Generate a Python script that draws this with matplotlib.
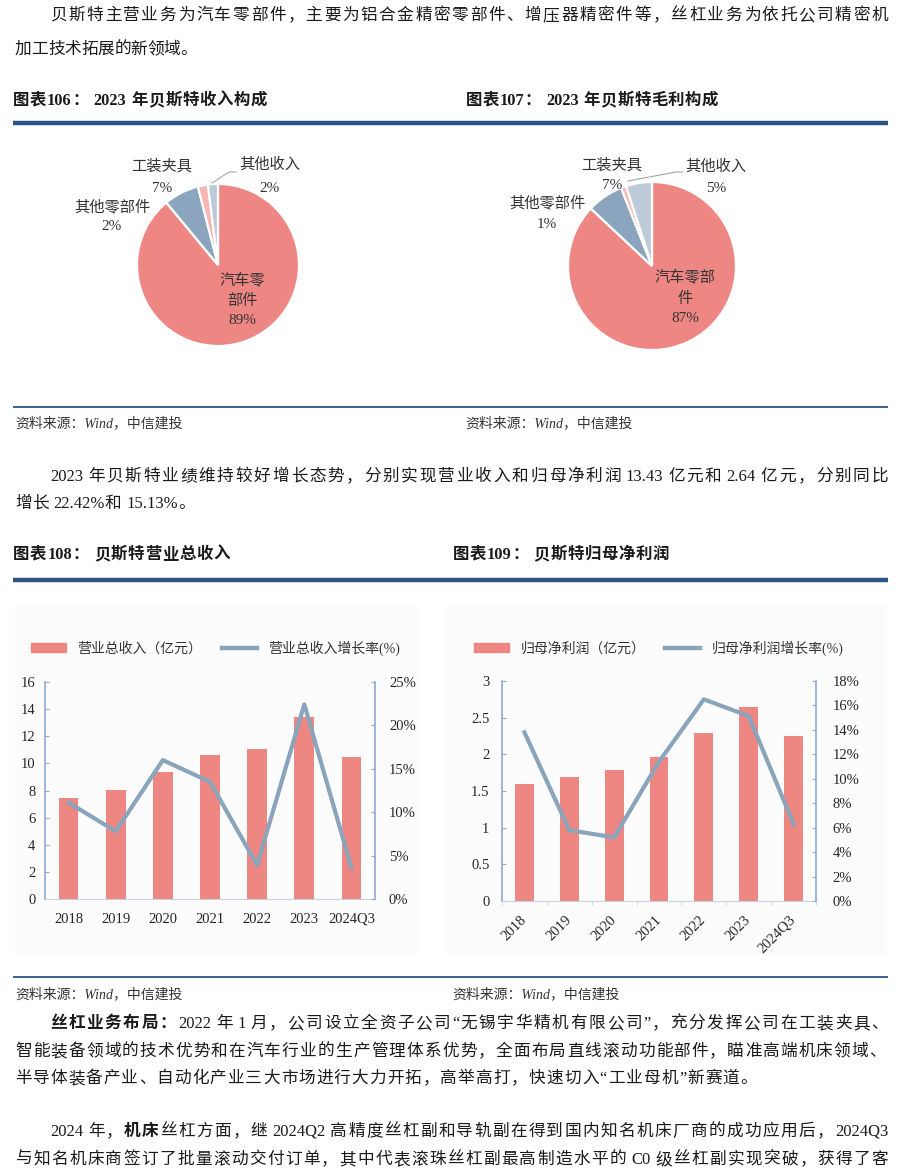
import numpy as np
import matplotlib
matplotlib.use("Agg")
import matplotlib.pyplot as plt
from matplotlib.lines import Line2D
from matplotlib.patches import Rectangle

# ---- data ----
years = ['2018', '2019', '2020', '2021', '2022', '2023', '2024Q3']
revenue = [7.45, 8.04, 9.36, 10.62, 11.06, 13.43, 10.47]          # 亿元
revenue_growth = [11.1, 7.8, 16.0, 13.5, 3.9, 22.42, 3.6]          # %
net_profit = [1.60, 1.69, 1.78, 1.96, 2.29, 2.64, 2.25]            # 亿元
profit_growth = [13.8, 5.8, 5.2, 11.4, 16.5, 15.13, 6.3]           # %

pie_names = ['汽车零部件', '工装夹具', '其他零部件', '其他收入']
income_share = [89, 7, 2, 2]
gross_share = [87, 7, 1, 5]

para1 = ['贝斯特主营业务为汽车零部件，主要为铝合金精密零部件、增压器精密件等，丝杠业务为依托公司精密机',
         '加工技术拓展的新领域。']
para2 = ['2023 年贝斯特业绩维持较好增长态势，分别实现营业收入和归母净利润 13.43 亿元和 2.64 亿元，分别同比',
         '增长 22.42%和 15.13%。']
para3_lead = '丝杠业务布局：'
para3 = ['2022 年 1 月，公司设立全资子公司“无锡宇华精机有限公司”，充分发挥公司在工装夹具、',
         '智能装备领域的技术优势和在汽车行业的生产管理体系优势，全面布局直线滚动功能部件，瞄准高端机床领域、',
         '半导体装备产业、自动化产业三大市场进行大力开拓，高举高打，快速切入“工业母机”新赛道。']
para4 = [[('2024 年，', 'normal'), ('机床', 'bold'),
          ('丝杠方面，继 2024Q2 高精度丝杠副和导轨副在得到国内知名机床厂商的成功应用后，2024Q3', 'normal')],
         [('与知名机床商签订了批量滚动交付订单，其中代表滚珠丝杠副最高制造水平的 C0 级丝杠副实现突破，获得了客', 'normal')]]

titles = ['图表106： 2023 年贝斯特收入构成', '图表107： 2023 年贝斯特毛利构成',
          '图表108： 贝斯特营业总收入', '图表109： 贝斯特归母净利润']
source = '资料来源：Wind，中信建投'

# ---- style ----
BAR = '#ee8681'
LINE = '#8aa4bb'
SPINE = '#8fa8d6'
NAVY = '#2e5486'
TXT = '#1a1a1a'
pie_colors = ['#ee8783', '#8aa5bd', '#f4b7b6', '#bdcbd9']

plt.rcParams['font.family'] = ['Liberation Serif', 'Noto Sans CJK SC']

W, H = 900, 1174
fig = plt.figure(figsize=(9, 11.74), dpi=100)
renderer = fig.canvas.get_renderer()


def fx(x):
    return x / W


def fy(y):
    return 1 - y / H


def split_tokens(s):
    out, buf = [], ''
    for ch in s:
        if ord(ch) < 128 and ch != ' ':
            buf += ch
        else:
            if buf:
                out.append(buf)
                buf = ''
            out.append(ch)
    if buf:
        out.append(buf)
    return out


def place_line(segs, x0, x1, y, size=12, color=TXT, style='normal'):
    """draw a text line spread between x0 and x1 (pixels), y = glyph centre"""
    toks = []
    for text, weight in segs:
        for tok in split_tokens(text):
            toks.append((tok, weight))
    items, widths, is_space = [], [], []
    for tok, weight in toks:
        if tok == ' ':
            items.append(None)
            widths.append(size * 100 / 72 * 0.3)
            is_space.append(True)
            continue
        t = fig.text(0, 0, tok, fontsize=size, fontweight=weight, color=color,
                     style=style, ha='left', va='baseline')
        items.append(t)
        widths.append(t.get_window_extent(renderer).width)
        is_space.append(False)
    # justification gaps only between two non-space tokens
    n_gaps = sum(1 for i in range(len(items) - 1) if not is_space[i] and not is_space[i + 1])
    gap = 0.0
    if x1 is not None and n_gaps > 0:
        gap = (x1 - x0 - sum(widths)) / n_gaps
    base = y + size * 100 / 72 * 0.36
    x = x0
    for i, (t, w) in enumerate(zip(items, widths)):
        if t is not None:
            t.set_position((fx(x), fy(base)))
        x += w
        if i < len(items) - 1 and not is_space[i] and not is_space[i + 1]:
            x += gap


def hline(y, x0=13, x1=888, lw=1.0, color=NAVY):
    fig.add_artist(Line2D([fx(x0), fx(x1)], [fy(y), fy(y)], lw=lw, color=color,
                          transform=fig.transFigure, solid_capstyle='butt'))


# ---- body text ----
place_line([(para1[0], 'normal')], 50, 888, 14)
place_line([(para1[1], 'normal')], 15, 197, 48)
place_line([(para2[0], 'normal')], 50, 888, 475)
place_line([(para2[1], 'normal')], 15, 195, 502)
place_line([(para3_lead, 'bold'), (para3[0], 'normal')], 50, 888, 1022)
place_line([(para3[1], 'normal')], 15, 886, 1050)
place_line([(para3[2], 'normal')], 15, 757, 1077)
place_line(para4[0], 50, 888, 1130)
place_line(para4[1], 15, 888, 1158)

# ---- titles, rules, sources ----
place_line([(titles[0], 'bold')], 13, 267, 99, size=11.8)
place_line([(titles[1], 'bold')], 466, 718, 99, size=11.8)
place_line([(titles[2], 'bold')], 13, 230, 553, size=11.8)
place_line([(titles[3], 'bold')], 453, 669, 553, size=11.8)
hline(122.5, lw=3.2)
hline(580, lw=3.2)
hline(407, lw=1.3)
hline(977, lw=1.3)
for x, y in [(15, 423), (465, 423), (15, 994), (452, 994)]:
    fig.text(fx(x), fy(y), source, fontsize=10, style='italic', color='#333333',
             ha='left', va='center')

# ---- pies ----
def draw_pie(values, cx, cy, r):
    pad = 1.2
    ax = fig.add_axes([fx(cx - pad * r), fy(cy + pad * r), 2 * pad * r / W, 2 * pad * r / H])
    ax.pie(values, colors=pie_colors, startangle=90, counterclock=False, radius=1,
           wedgeprops=dict(edgecolor='white', linewidth=1.6))
    ax.set_xlim(-pad, pad)
    ax.set_ylim(-pad, pad)
    ax.set_aspect('equal')
    ax.axis('off')


def pie_label(lines, x, ys):
    for s, y in zip(lines, ys):
        fig.text(fx(x), fy(y), s, fontsize=11, color='#333333', ha='center', va='center')


draw_pie(income_share, 218, 265, 81)
draw_pie(gross_share, 652, 266, 84)

pct1 = [f'{v}%' for v in income_share]
pct2 = [f'{v}%' for v in gross_share]
pie_label([pie_names[0][:3], pie_names[0][3:], pct1[0]], 242, [280, 301, 320])
pie_label([pie_names[1], pct1[1]], 162, [166, 188])
pie_label([pie_names[2], pct1[2]], 112, [207, 227])
pie_label([pie_names[3], pct1[3]], 270, [165, 188])
pie_label([pie_names[0][:4], pie_names[0][4:], pct2[0]], 685, [277, 299, 319])
pie_label([pie_names[1], pct2[1]], 612, [165, 185])
pie_label([pie_names[2], pct2[2]], 547, [203, 224])
pie_label([pie_names[3], pct2[3]], 716, [167, 188])
for xs, ys in [([212, 229, 236], [183, 172, 172]), ([628, 676, 683], [181, 172, 172])]:
    fig.add_artist(Line2D([fx(v) for v in xs], [fy(v) for v in ys], lw=0.8,
                          color='#a6a6a6', transform=fig.transFigure))

# ---- combo charts ----
for x0, x1 in [(15, 417), (445, 885)]:
    fig.add_artist(Rectangle((fx(x0), fy(955)), (x1 - x0) / W, 350 / H,
                             transform=fig.transFigure, color='#fcfcfc', zorder=0))


def combo(rect, bars, growth, ymax, ystep, pmax, pstep, bar_names, rotate,
          lpad, rpad, legend_x):
    l, t, r, b = rect
    ax = fig.add_axes([fx(l), fy(b), (r - l) / W, (b - t) / H])
    ax.patch.set_alpha(0)
    x = np.arange(len(years))
    ax.bar(x, bars, width=0.42, color=BAR, zorder=2)
    ax.set_xlim(-0.5, len(years) - 0.5)
    ax.set_ylim(0, ymax)
    yt = np.arange(0, ymax + 1e-9, ystep)
    ax.set_yticks(yt, [f'{v:g}' for v in yt])
    for side in ['top', 'right']:
        ax.spines[side].set_visible(False)
    ax.spines['left'].set_color(SPINE)
    ax.spines['left'].set_linewidth(1.2)
    ax.spines['bottom'].set_color('#c9d3e3')
    ax.tick_params(axis='y', direction='in', length=3, color=SPINE, pad=lpad,
                   labelsize=10.5, labelcolor='#262626')
    if rotate:
        ax.set_xticks(x, years, rotation=45, ha='right', rotation_mode='anchor', va='center')
        ax.set_xticks(np.arange(-0.5, len(years), 1), minor=True)
        ax.tick_params(axis='x', which='major', length=0, pad=12, labelsize=10.5,
                       labelcolor='#262626')
        ax.tick_params(axis='x', which='minor', length=3, direction='out', color='#c9d3e3')
    else:
        ax.set_xticks(x, years)
        ax.tick_params(axis='x', length=0, pad=10, labelsize=10.5, labelcolor='#262626')

    ax2 = ax.twinx()
    ax2.plot(x, growth, color=LINE, lw=3)
    ax2.set_ylim(0, pmax)
    pt = np.arange(0, pmax + 1e-9, pstep)
    ax2.set_yticks(pt, [f'{v:g}%' for v in pt])
    for side in ['top', 'left', 'bottom']:
        ax2.spines[side].set_visible(False)
    ax2.spines['right'].set_color(SPINE)
    ax2.spines['right'].set_linewidth(1.2)
    ax2.tick_params(axis='y', direction='in', length=3, color=SPINE, pad=rpad,
                    labelsize=10.5, labelcolor='#262626')

    fig.legend([Rectangle((0, 0), 1, 1, color=BAR), Line2D([], [], color=LINE, lw=3.2)],
               bar_names, loc='center left', bbox_to_anchor=(fx(legend_x), fy(648)),
               ncol=2, frameon=False, fontsize=10, handlelength=2.5, handleheight=0.6,
               handletextpad=0.85, columnspacing=1.4, borderaxespad=0, borderpad=0,
               labelcolor='#333333')


combo((45, 682, 375, 899), revenue, revenue_growth, 16, 2, 25, 5,
      ['营业总收入（亿元）', '营业总收入增长率(%)'], False, 7, 10, 31)
combo((502, 681, 816, 901), net_profit, profit_growth, 3, 0.5, 18, 2,
      ['归母净利润（亿元）', '归母净利润增长率(%)'], True, 9, 12, 474)

fig.savefig('out.png', dpi=100, facecolor='white')
